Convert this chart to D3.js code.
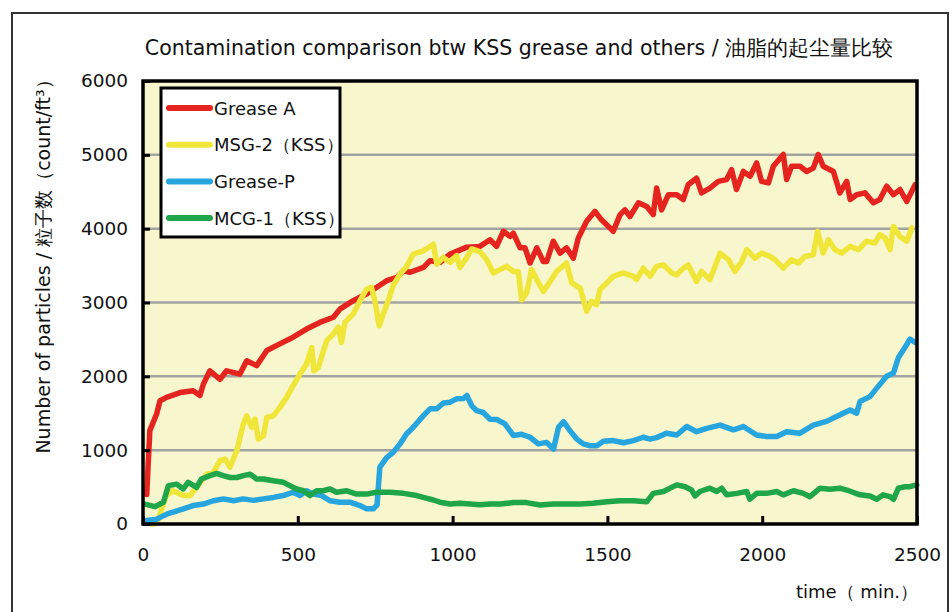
<!DOCTYPE html>
<html>
<head>
<meta charset="utf-8">
<script src="https://cdn.jsdelivr.net/npm/d3@7"></script>
<style>
  body { margin: 0; background: #fff; }
  svg { display: block; font-family: "DejaVu Sans", Verdana, sans-serif; }
</style>
</head>
<body>
<script>
// chart data
const seriesNames = ['Grease A', 'MSG-2（KSS）', 'Grease-P', 'MCG-1（KSS）'];
const seriesColors = ['#e5231f', '#f0e63a', '#27a5de', '#1fa64a'];

const greaseATime = [12, 22, 44, 55, 76, 120, 162, 184, 195, 216, 249, 270, 313, 335, 367, 400, 442, 485, 528, 571, 615, 636, 679, 722, 787, 820, 841, 863, 906, 927, 960, 992, 1046, 1088, 1121, 1142, 1164, 1185, 1196, 1218, 1234, 1250, 1272, 1293, 1304, 1325, 1347, 1368, 1390, 1406, 1433, 1460, 1481, 1519, 1541, 1557, 1573, 1600, 1627, 1648, 1659, 1675, 1697, 1724, 1745, 1761, 1788, 1804, 1831, 1858, 1885, 1901, 1917, 1939, 1961, 1982, 1998, 2020, 2036, 2068, 2079, 2095, 2122, 2144, 2165, 2181, 2197, 2230, 2251, 2273, 2284, 2305, 2332, 2359, 2380, 2402, 2424, 2445, 2467, 2494];
const greaseAValues = [400, 1265, 1490, 1670, 1715, 1780, 1805, 1740, 1895, 2075, 1960, 2075, 2030, 2210, 2145, 2350, 2440, 2530, 2640, 2730, 2800, 2910, 3025, 3115, 3295, 3340, 3430, 3410, 3475, 3565, 3545, 3655, 3750, 3760, 3850, 3760, 3965, 3895, 3940, 3740, 3740, 3535, 3740, 3555, 3555, 3830, 3670, 3740, 3600, 3875, 4100, 4235, 4120, 3965, 4190, 4255, 4165, 4350, 4300, 4190, 4550, 4255, 4460, 4460, 4395, 4595, 4685, 4485, 4550, 4640, 4665, 4800, 4530, 4775, 4710, 4890, 4640, 4620, 4845, 5005, 4665, 4845, 4845, 4775, 4820, 5005, 4845, 4775, 4485, 4640, 4395, 4460, 4485, 4350, 4395, 4575, 4460, 4530, 4370, 4595];

const msg2Time = [5, 25, 45, 60, 75, 95, 130, 152, 173, 206, 227, 249, 265, 281, 303, 324, 335, 351, 362, 372, 389, 400, 421, 442, 464, 485, 507, 528, 545, 552, 566, 593, 615, 631, 641, 652, 679, 701, 722, 738, 749, 763, 776, 792, 808, 830, 850, 873, 906, 938, 949, 970, 992, 1013, 1024, 1046, 1062, 1088, 1110, 1132, 1153, 1175, 1196, 1212, 1223, 1239, 1255, 1272, 1293, 1315, 1336, 1368, 1385, 1412, 1433, 1449, 1465, 1476, 1498, 1519, 1551, 1584, 1594, 1616, 1638, 1659, 1681, 1708, 1724, 1740, 1761, 1788, 1804, 1831, 1848, 1864, 1891, 1912, 1934, 1950, 1977, 1998, 2025, 2041, 2068, 2095, 2117, 2138, 2165, 2179, 2197, 2214, 2235, 2257, 2284, 2311, 2337, 2364, 2380, 2397, 2413, 2424, 2445, 2467, 2483];
const msg2Values = [30, 0, 10, 200, 380, 450, 385, 385, 495, 675, 700, 860, 880, 770, 995, 1355, 1465, 1310, 1420, 1150, 1195, 1445, 1465, 1580, 1715, 1875, 2030, 2165, 2390, 2075, 2120, 2480, 2575, 2665, 2460, 2730, 2845, 3025, 3180, 3205, 3025, 2685, 2845, 3025, 3230, 3385, 3480, 3655, 3700, 3790, 3520, 3610, 3545, 3635, 3475, 3610, 3725, 3690, 3580, 3400, 3445, 3490, 3420, 3420, 3035, 3130, 3445, 3310, 3150, 3285, 3420, 3535, 3265, 3195, 2880, 3015, 2970, 3175, 3265, 3355, 3400, 3355, 3310, 3465, 3355, 3490, 3510, 3400, 3375, 3445, 3510, 3285, 3420, 3310, 3490, 3670, 3580, 3420, 3555, 3715, 3600, 3670, 3625, 3580, 3465, 3580, 3535, 3625, 3645, 3965, 3670, 3850, 3715, 3670, 3760, 3715, 3830, 3805, 3920, 3875, 3715, 4030, 3895, 3830, 4010];

const greasePTime = [5, 25, 45, 60, 80, 100, 130, 162, 195, 227, 260, 292, 324, 356, 389, 421, 453, 485, 507, 528, 550, 577, 604, 636, 668, 701, 722, 744, 756, 765, 787, 808, 830, 851, 873, 905, 927, 949, 970, 992, 1013, 1035, 1046, 1062, 1078, 1099, 1121, 1143, 1169, 1196, 1223, 1250, 1277, 1304, 1326, 1342, 1358, 1379, 1401, 1422, 1444, 1466, 1487, 1519, 1552, 1584, 1616, 1638, 1659, 1691, 1724, 1756, 1788, 1821, 1864, 1907, 1939, 1982, 2014, 2047, 2079, 2122, 2165, 2208, 2240, 2284, 2305, 2316, 2348, 2370, 2402, 2424, 2440, 2461, 2477, 2494];
const greasePValues = [45, 55, 65, 100, 140, 165, 205, 250, 270, 315, 340, 315, 340, 320, 340, 360, 385, 430, 385, 450, 405, 385, 315, 295, 295, 250, 205, 205, 260, 770, 900, 970, 1085, 1220, 1310, 1465, 1560, 1560, 1640, 1650, 1695, 1700, 1740, 1600, 1535, 1510, 1420, 1415, 1355, 1200, 1215, 1175, 1085, 1105, 1015, 1310, 1385, 1265, 1150, 1085, 1060, 1060, 1120, 1130, 1100, 1130, 1175, 1150, 1170, 1230, 1205, 1320, 1250, 1295, 1340, 1275, 1320, 1205, 1185, 1185, 1250, 1230, 1340, 1390, 1455, 1545, 1500, 1660, 1725, 1840, 2000, 2045, 2255, 2390, 2505, 2460];

const mcg1Time = [6, 39, 66, 82, 109, 130, 146, 173, 189, 216, 238, 259, 281, 303, 324, 346, 367, 389, 421, 453, 474, 496, 518, 539, 561, 582, 604, 625, 658, 690, 722, 754, 798, 841, 884, 905, 938, 959, 992, 1024, 1056, 1088, 1121, 1153, 1196, 1239, 1282, 1325, 1368, 1411, 1454, 1498, 1541, 1584, 1627, 1648, 1681, 1724, 1751, 1772, 1783, 1799, 1831, 1853, 1869, 1885, 1918, 1950, 1960, 1982, 2014, 2047, 2068, 2101, 2133, 2154, 2187, 2219, 2251, 2273, 2316, 2348, 2370, 2391, 2413, 2424, 2440, 2461, 2477, 2499];
const mcg1Values = [270, 235, 295, 520, 540, 475, 565, 495, 610, 655, 685, 655, 630, 630, 655, 675, 610, 610, 585, 565, 520, 475, 450, 385, 450, 450, 475, 430, 450, 405, 405, 430, 430, 415, 385, 360, 325, 295, 270, 280, 270, 260, 270, 270, 290, 290, 258, 270, 270, 270, 280, 300, 316, 316, 300, 415, 440, 530, 505, 460, 380, 440, 485, 440, 485, 395, 415, 440, 335, 415, 415, 440, 395, 450, 415, 370, 485, 470, 485, 460, 395, 380, 335, 395, 370, 335, 485, 505, 505, 530];

const xTicks = [0, 500, 1000, 1500, 2000, 2500];
const yTicks = [0, 1000, 2000, 3000, 4000, 5000, 6000];

const titleText = 'Contamination comparison btw KSS grease and others / 油脂的起尘量比较';
const yLabelText = 'Number of particles / 粒子数（count/ft³）';
const xLabelText = 'time（ min.）';

// layout
const width = 950, height = 612;
const plot = {left: 143, right: 917, top: 81, bottom: 524};

const svg = d3.select('body').append('svg')
  .attr('width', width)
  .attr('height', height);

// outer frame of the figure
svg.append('rect')
  .attr('x', 12).attr('y', 13)
  .attr('width', 936).attr('height', 620)
  .attr('fill', 'none')
  .attr('stroke', '#333')
  .attr('stroke-width', 2);

const x = d3.scaleLinear().domain([0, 2500]).range([plot.left, plot.right]);
const y = d3.scaleLinear().domain([0, 6000]).range([plot.bottom, plot.top]);

// plot background
svg.append('rect')
  .attr('x', plot.left).attr('y', plot.top)
  .attr('width', plot.right - plot.left)
  .attr('height', plot.bottom - plot.top)
  .attr('fill', '#f8f6cc');

// gridlines
svg.append('g')
  .selectAll('line')
  .data(yTicks.filter(d => d > 0 && d < 6000))
  .enter().append('line')
  .attr('x1', plot.left).attr('x2', plot.right)
  .attr('y1', d => y(d)).attr('y2', d => y(d))
  .attr('stroke', '#a3a3a3')
  .attr('stroke-width', 2.5);

// series lines
const series = [
  {name: seriesNames[0], color: seriesColors[0], t: greaseATime, v: greaseAValues},
  {name: seriesNames[1], color: seriesColors[1], t: msg2Time, v: msg2Values},
  {name: seriesNames[2], color: seriesColors[2], t: greasePTime, v: greasePValues},
  {name: seriesNames[3], color: seriesColors[3], t: mcg1Time, v: mcg1Values}
];

const line = d3.line()
  .x(d => x(d[0]))
  .y(d => y(d[1]));

svg.append('g')
  .selectAll('path')
  .data(series)
  .enter().append('path')
  .attr('d', s => line(s.t.map((t, i) => [t, s.v[i]])))
  .attr('fill', 'none')
  .attr('stroke', s => s.color)
  .attr('stroke-width', 5.5)
  .attr('stroke-linejoin', 'round')
  .attr('stroke-linecap', 'round');

// axes
const yAxis = d3.axisLeft(y).tickValues(yTicks).tickFormat(d3.format('d'))
  .tickSizeInner(-7).tickSizeOuter(0).tickPadding(15);
const xAxis = d3.axisBottom(x).tickValues(xTicks).tickFormat(d3.format('d'))
  .tickSizeInner(-8).tickSizeOuter(0).tickPadding(24);

const gy = svg.append('g')
  .attr('transform', 'translate(' + plot.left + ',0)')
  .call(yAxis);
const gx = svg.append('g')
  .attr('transform', 'translate(0,' + plot.bottom + ')')
  .call(xAxis);

[gx, gy].forEach(g => {
  g.select('.domain').remove();
  g.selectAll('.tick line').attr('stroke', '#000').attr('stroke-width', 3);
  g.selectAll('.tick text')
    .attr('fill', '#111')
    .style('font-size', '18.5px')
    .style('font-family', '"DejaVu Sans", Verdana, sans-serif');
});

// plot border
svg.append('rect')
  .attr('x', plot.left).attr('y', plot.top)
  .attr('width', plot.right - plot.left)
  .attr('height', plot.bottom - plot.top)
  .attr('fill', 'none')
  .attr('stroke', '#000')
  .attr('stroke-width', 3.5);

// title
svg.append('text')
  .attr('x', 519).attr('y', 55)
  .attr('text-anchor', 'middle')
  .style('font-size', '20.5px')
  .attr('fill', '#111')
  .text(titleText);

// axis labels
svg.append('text')
  .attr('transform', 'translate(50,262) rotate(-90)')
  .attr('text-anchor', 'middle')
  .style('font-size', '19px')
  .attr('fill', '#111')
  .text(yLabelText);

svg.append('text')
  .attr('x', 857).attr('y', 598)
  .attr('text-anchor', 'middle')
  .style('font-size', '18px')
  .attr('fill', '#111')
  .text(xLabelText);

// legend
const legend = svg.append('g');
legend.append('rect')
  .attr('x', 161).attr('y', 88)
  .attr('width', 179).attr('height', 149)
  .attr('fill', '#fff')
  .attr('stroke', '#000')
  .attr('stroke-width', 3);

const items = legend.selectAll('g.item')
  .data(series)
  .enter().append('g')
  .attr('class', 'item')
  .attr('transform', (d, i) => 'translate(0,' + (108 + i * 36.7) + ')');
items.append('line')
  .attr('x1', 169).attr('x2', 210)
  .attr('stroke', d => d.color)
  .attr('stroke-width', 6)
  .attr('stroke-linecap', 'round');
items.append('text')
  .attr('x', 214).attr('y', 6.5)
  .style('font-size', '18px')
  .attr('fill', '#111')
  .text(d => d.name);
</script>
</body>
</html>
